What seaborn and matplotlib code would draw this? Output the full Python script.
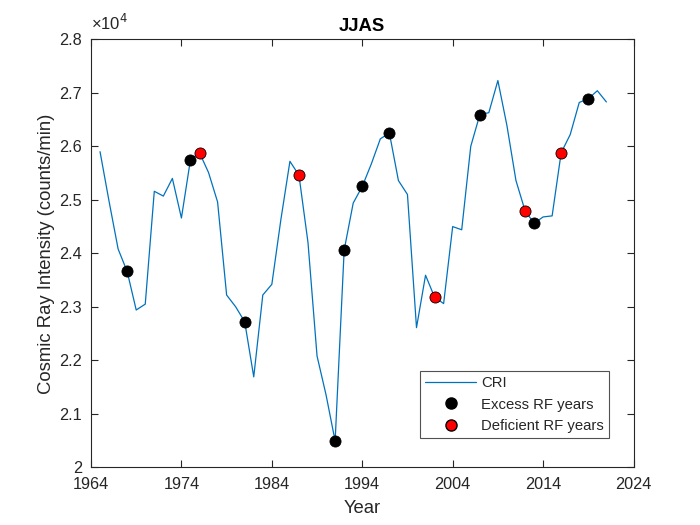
import matplotlib
matplotlib.use("Agg")
import matplotlib.pyplot as plt
import seaborn as sns
import pandas as pd
from matplotlib.ticker import FuncFormatter, FixedLocator
from matplotlib.lines import Line2D

years = list(range(1965, 2022))
cri = [2.590, 2.497, 2.408, 2.366, 2.294, 2.305, 2.516, 2.507, 2.540, 2.466,
       2.575, 2.588, 2.551, 2.496, 2.322, 2.300, 2.272, 2.169, 2.322, 2.342,
       2.463, 2.572, 2.546, 2.420, 2.208, 2.135, 2.049, 2.406, 2.494, 2.525,
       2.567, 2.614, 2.625, 2.536, 2.510, 2.261, 2.359, 2.318, 2.306, 2.450,
       2.444, 2.600, 2.659, 2.663, 2.723, 2.639, 2.536, 2.480, 2.456, 2.468,
       2.470, 2.588, 2.622, 2.682, 2.689, 2.704, 2.683]
cri = [v * 1e4 for v in cri]
excess_years = [1968, 1975, 1981, 1991, 1992, 1994, 1997, 2007, 2013, 2019]
deficient_years = [1976, 1987, 2002, 2012, 2016]
xticks = [1964, 1974, 1984, 1994, 2004, 2014, 2024]
yticks = [20000, 21000, 22000, 23000, 24000, 25000, 26000, 27000, 28000]

df = pd.DataFrame({"Year": years, "CRI": cri})
ex = df[df["Year"].isin(excess_years)]
de = df[df["Year"].isin(deficient_years)]

sns.set_theme(style="white")
plt.rcParams["font.family"] = ["Liberation Sans", "DejaVu Sans"]

fig = plt.figure(figsize=(7, 5.25), dpi=100)
ax = fig.add_axes([0.13, 0.11, 0.775, 0.815])

sns.lineplot(data=df, x="Year", y="CRI", ax=ax, color="#0072BD", linewidth=0.9,
             legend=False)
sns.scatterplot(data=ex, x="Year", y="CRI", ax=ax, color="black", edgecolor="black",
                s=64, linewidth=0.6, zorder=3, legend=False)
sns.scatterplot(data=de, x="Year", y="CRI", ax=ax, color="red", edgecolor="black",
                s=64, linewidth=0.6, zorder=3, legend=False)

ax.set_xlim(1964, 2024)
ax.set_ylim(20000, 28000)
ax.xaxis.set_major_locator(FixedLocator(xticks))
ax.yaxis.set_major_locator(FixedLocator(yticks))
ax.yaxis.set_major_formatter(FuncFormatter(lambda v, p: f"{v/1e4:g}"))

tc = "#262626"
for s in ax.spines.values():
    s.set_color(tc)
    s.set_linewidth(0.8)
ax.tick_params(direction="in", length=5, width=0.8, colors=tc, labelsize=11.7,
               top=True, right=True, bottom=True, left=True)
ax.tick_params(axis="x", pad=7)
ax.tick_params(axis="y", pad=6.5)
ax.set_xlabel("Year", fontsize=13.3, color=tc, labelpad=6)
ax.set_ylabel("Cosmic Ray Intensity (counts/min)", fontsize=13.3, color=tc,
              labelpad=3)
ax.set_title("JJAS", fontsize=13.3, fontweight="bold", color="black", pad=6)
ax.text(0.0, 1.014, "×10$^{4}$", transform=ax.transAxes, fontsize=12,
        color=tc, ha="left", va="bottom")

handles = [
    Line2D([], [], color="#0072BD", linewidth=0.9),
    Line2D([], [], marker="o", linestyle="none", markerfacecolor="black",
           markeredgecolor="black", markersize=8),
    Line2D([], [], marker="o", linestyle="none", markerfacecolor="red",
           markeredgecolor="black", markersize=8),
]
leg = ax.legend(handles, ["CRI", "Excess RF years", "Deficient RF years"],
                loc="lower right", bbox_to_anchor=(0.955, 0.068), fontsize=10.7,
                frameon=True, fancybox=False, handlelength=3.4,
                borderpad=0.35, labelspacing=0.5, handletextpad=0.35,
                borderaxespad=0.0)
leg.get_frame().set_edgecolor(tc)
leg.get_frame().set_linewidth(0.8)

fig.savefig("out.png", dpi=100, facecolor="white")
